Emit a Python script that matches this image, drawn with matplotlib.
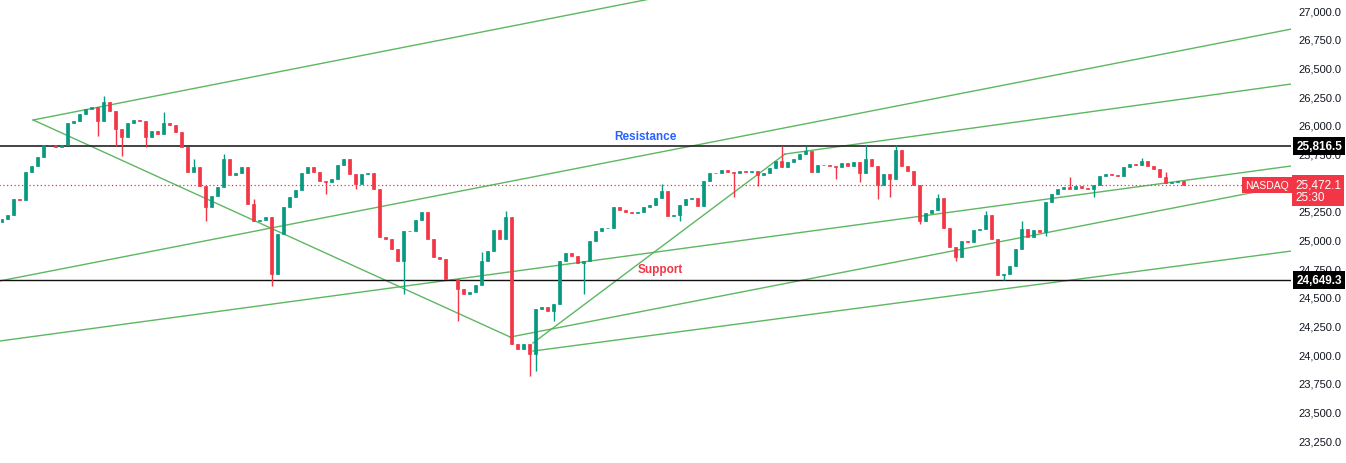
import numpy as np
import matplotlib
matplotlib.use("Agg")
import matplotlib.pyplot as plt

plt.rcParams.update({"font.family": ["Liberation Sans", "DejaVu Sans"]})

# --- donnees (NASDAQ, une bougie par pas) ---
close = [25177, 25212, 25352, 25343, 25587, 25640, 25718, 25823, 25823, 25805,
         25823, 26015, 26032, 26093, 26137, 26154, 26032, 26198, 26119, 25962,
         25892, 26015, 26041, 26032, 25892, 25945, 25919, 26015, 25997, 25936,
         25805, 25587, 25631, 25465, 25282, 25378, 25456, 25701, 25561, 25579,
         25631, 25308, 25160, 25169, 25195, 24698, 25047, 25282, 25369, 25430,
         25579, 25631, 25587, 25509, 25500, 25526, 25648, 25701, 25570, 25483,
         25570, 25579, 25439, 25020, 25003, 24916, 24811, 25073, 25073, 25169,
         25238, 25003, 24846, 24829, 24654, 24654, 24567, 24523, 24541, 24602,
         24811, 24898, 25081, 25003, 25195, 24087, 24044, 24087, 24000, 24392,
         24410, 24375, 24436, 24811, 24881, 24855, 24794, 24811, 24986, 25073,
         25099, 25099, 25282, 25256, 25238, 25230, 25238, 25282, 25299, 25360,
         25422, 25203, 25212, 25299, 25352, 25360, 25291, 25509, 25579, 25579,
         25605, 25587, 25579, 25596, 25587, 25596, 25561, 25579, 25622, 25683,
         25631, 25674, 25701, 25744, 25770, 25587, 25648, 25648, 25640, 25631,
         25666, 25640, 25674, 25579, 25701, 25640, 25474, 25570, 25526, 25779,
         25640, 25596, 25474, 25160, 25230, 25256, 25360, 25099, 24933, 24846,
         24986, 24977, 25081, 25090, 25212, 25003, 24689, 24698, 24767, 24916,
         25090, 25020, 25081, 25064, 25326, 25395, 25439, 25456, 25439, 25465,
         25448, 25439, 25474, 25552, 25570, 25561, 25552, 25631, 25657, 25648,
         25683, 25640, 25613, 25544, 25491, 25500, 25509, 25472.1]
first_open = 25150

# meches visibles (indice de bougie -> prix)
wick_hi = {17: 26250, 27: 26110, 32: 25701, 37: 25744, 42: 25352, 80: 24890,
           84: 25247, 110: 25483, 130: 25814, 134: 25814, 144: 25823,
           149: 25823, 156: 25395, 164: 25247, 170: 25160, 178: 25544,
           190: 25709, 194: 25587}
wick_lo = {16: 25901, 19: 25814, 20: 25727, 24: 25805, 34: 25160, 45: 24593,
           54: 25395, 59: 25439, 67: 24523, 76: 24288, 88: 23808, 89: 23852,
           92: 24288, 97: 24523, 113: 25160, 122: 25369, 126: 25465,
           139: 25526, 143: 25500, 146: 25352, 148: 25369, 153: 25134,
           159: 24811, 167: 24645, 174: 25029, 182: 25369}

# droites tracees (bougie, prix) -> (bougie, prix)
trend_lines = [((5.2, 26041), (108.0, 27096)),
               ((5.2, 26041), (84.7, 24148)),
               ((-0.4, 24637), (214.9, 26834)),
               ((-0.4, 24113), (214.9, 25640)),
               ((84.7, 24148), (214.9, 25474)),
               ((88.5, 24096), (130.5, 25744)),
               ((130.5, 25744), (214.9, 26355)),
               ((88.5, 24026), (214.9, 24898))]

resistance = 25816.5
support = 24649.3
last_price = 25472.1
countdown = "25:30"
price_ticks = np.arange(23250, 27001, 250)

UP, DOWN = "#089981", "#F23645"
GREEN = "#4caf50"

fig = plt.figure(figsize=(13.46, 4.64), dpi=100)
ax = fig.add_axes([0, 0, 1291 / 1346, 1])

n = len(close)
x = np.arange(n)
op = np.array([first_open] + close[:-1], dtype=float)
cl = np.array(close, dtype=float)
col = [UP if c >= o else DOWN for o, c in zip(op, cl)]
hi = np.array([wick_hi.get(i, max(op[i], cl[i])) for i in range(n)])
lo = np.array([wick_lo.get(i, min(op[i], cl[i])) for i in range(n)])

# lignes
for (x0, y0), (x1, y1) in trend_lines:
    ax.plot([x0, x1], [y0, y1], color=GREEN, lw=1.0, alpha=0.9, zorder=1)
ax.axhline(resistance, color="#222222", lw=1.2, zorder=1)
ax.axhline(support, color="#111111", lw=1.0, zorder=1)
ax.hlines(last_price, -1, 207.6, colors=DOWN, linestyles=(0, (1, 2)), lw=0.9, zorder=1)

# bougies
ax.vlines(x, lo, hi, colors=col, lw=1.0, zorder=2)
ax.bar(x, cl - op, bottom=op, width=0.5, color=col, edgecolor=col, lw=0.5, zorder=3)

ax.annotate("Resistance", (107.2, resistance), xytext=(0, 3), textcoords="offset points",
            ha="center", va="bottom", color="#2962FF", fontsize=8.5, fontweight="bold")
ax.annotate("Support", (109.7, support), xytext=(0, 3), textcoords="offset points",
            ha="center", va="bottom", color=DOWN, fontsize=8.5, fontweight="bold")

ax.set_xlim(-2 / 6, 1289 / 6)
ax.set_ylim(23049.5, 27096)
for s in ax.spines.values():
    s.set_visible(False)
ax.set_xticks([])
ax.yaxis.tick_right()
ax.set_yticks(price_ticks)
ax.set_yticklabels([f"{v:,.1f}" for v in price_ticks])
ax.tick_params(axis="y", length=0, pad=5, labelsize=8, labelcolor="#131722")

tr = ax.get_yaxis_transform()
for p in (resistance, support):
    ax.text(1.004, p, f"{p:,.1f}", transform=tr, ha="left", va="center", color="white",
            fontsize=8.5, fontweight="bold", clip_on=False, zorder=5,
            bbox=dict(boxstyle="square,pad=0.25", fc="black", ec="none"))
ax.text(0.998, last_price, "NASDAQ", transform=tr, ha="right", va="center", color="white",
        fontsize=7.5, clip_on=False, zorder=5,
        bbox=dict(boxstyle="square,pad=0.3", fc=DOWN, ec="none"))
ax.annotate(f"{last_price:,.1f}\n{countdown}", (1, last_price), xycoords=tr,
            xytext=(3, 5), textcoords="offset points", ha="left", va="top",
            color="white", fontsize=8.5, linespacing=1.1, annotation_clip=False, zorder=5,
            bbox=dict(boxstyle="square,pad=0.25", fc=DOWN, ec="none"))

fig.savefig("out.png", dpi=100, facecolor="white")
